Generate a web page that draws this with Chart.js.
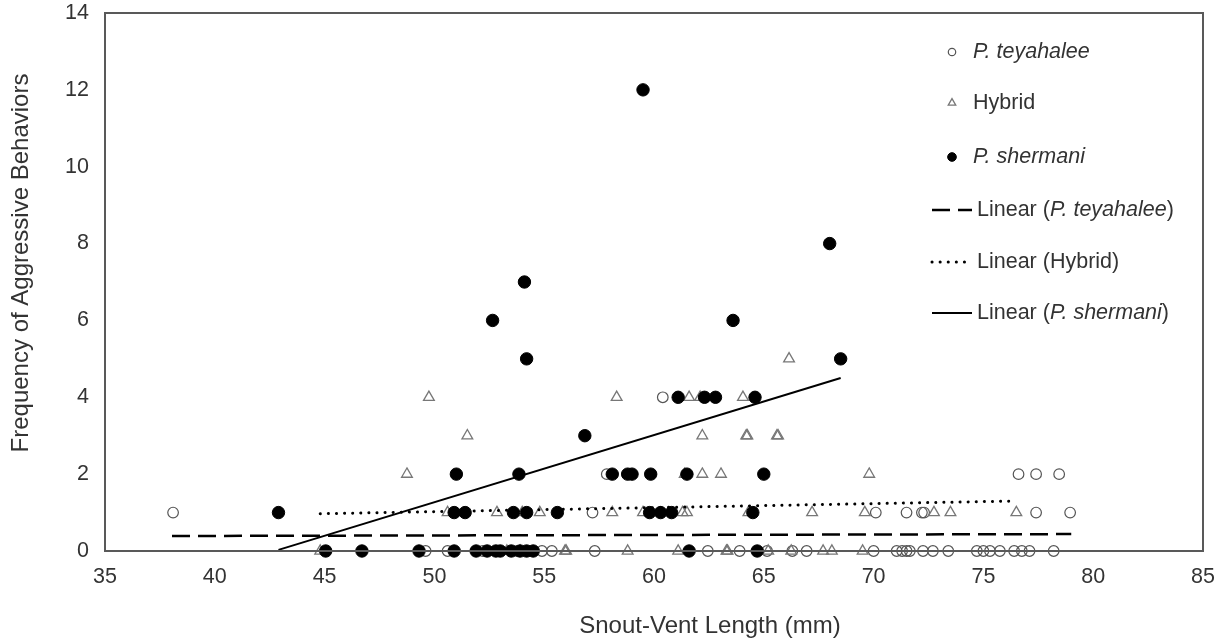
<!DOCTYPE html>
<html lang="en">
<head>
<meta charset="utf-8">
<script src="https://cdn.jsdelivr.net/npm/chart.js"></script>
<style>
  body { margin: 0; background: #fff; }
  #wrap { width: 1225px; height: 643px; }
</style>
</head>
<body>
<div id="wrap"><canvas id="myChart"></canvas></div>
<script>
// P. teyahalee (open circles)
const teyX = [49.6, 50.6, 52.2, 53.75, 54.9, 55.35, 57.3, 62.45, 63.9, 65.15, 66.3, 66.95, 70.0, 71.05, 71.3, 71.5, 71.65, 72.25, 72.7, 73.4, 74.7, 75.0, 75.3, 75.75, 76.4, 76.75, 77.1, 78.2,
              38.1, 57.2, 70.1, 71.5, 72.2, 72.3, 77.4, 78.95,
              57.85, 76.6, 77.4, 78.45,
              60.4];
const teyY = [0, 0, 0, 0, 0, 0, 0, 0, 0, 0, 0, 0, 0, 0, 0, 0, 0, 0, 0, 0, 0, 0, 0, 0, 0, 0, 0, 0,
              1, 1, 1, 1, 1, 1, 1, 1,
              2, 2, 2, 2,
              4];

// Hybrid (open triangles)
const hybX = [44.8, 53.3, 53.9, 55.95, 56.0, 58.8, 61.1, 63.3, 63.35, 65.2, 66.25, 67.7, 68.1, 69.5,
              50.6, 52.85, 54.0, 54.8, 58.1, 59.5, 61.3, 61.5, 64.3, 67.2, 69.6, 72.75, 73.5, 76.5,
              48.75, 61.4, 62.2, 63.05, 69.8,
              51.5, 62.2, 64.2, 64.25, 65.6, 65.65,
              49.75, 58.3, 61.6, 62.1, 64.05,
              66.15];
const hybY = [0, 0, 0, 0, 0, 0, 0, 0, 0, 0, 0, 0, 0, 0,
              1, 1, 1, 1, 1, 1, 1, 1, 1, 1, 1, 1, 1, 1,
              2, 2, 2, 2, 2,
              3, 3, 3, 3, 3, 3,
              4, 4, 4, 4, 4,
              5];

// P. shermani (filled circles)
const sheX = [45.05, 46.7, 49.3, 50.9, 51.9, 52.4, 52.8, 53.0, 53.5, 53.9, 54.2, 54.5, 61.6, 64.7,
              42.9, 50.9, 51.4, 53.6, 54.2, 55.6, 59.8, 60.3, 60.8, 64.5,
              51.0, 53.85, 58.1, 58.8, 59.0, 59.85, 61.5, 65.0,
              56.85,
              61.1, 62.3, 62.8, 64.6,
              54.2, 68.5,
              52.65, 63.6,
              54.1,
              68.0,
              59.5];
const sheY = [0, 0, 0, 0, 0, 0, 0, 0, 0, 0, 0, 0, 0, 0,
              1, 1, 1, 1, 1, 1, 1, 1, 1, 1,
              2, 2, 2, 2, 2, 2, 2, 2,
              3,
              4, 4, 4, 4,
              5, 5,
              6, 6,
              7,
              8,
              12];

// linear trendline end points
const teyFitX = [38.05, 79.0];
const teyFitY = [0.39, 0.44];
const hybFitX = [44.8, 76.4];
const hybFitY = [0.97, 1.30];
const sheFitX = [42.9, 68.5];
const sheFitY = [0.03, 4.5];

const xTicks = [35, 40, 45, 50, 55, 60, 65, 70, 75, 80, 85];
const yTicks = [0, 2, 4, 6, 8, 10, 12, 14];
const xTitle = 'Snout-Vent Length (mm)';
const yTitle = 'Frequency of Aggressive Behaviors';

function pts(xs, ys) {
    return xs.map((x, i) => ({x: x, y: ys[i]}));
}

const textColor = '#333333';
const fontFam = "'Liberation Sans', Arial, sans-serif";

// frame, axis titles and legend
const framePlugin = {
    id: 'frame',
    afterDraw(chart) {
        const ctx = chart.ctx;
        const a = chart.chartArea;
        ctx.save();
        ctx.strokeStyle = '#595959';
        ctx.lineWidth = 2;
        ctx.strokeRect(a.left, a.top, a.right - a.left, a.bottom - a.top);

        // axis titles (Excel places these a bit off the plot centre)
        ctx.fillStyle = textColor;
        ctx.font = '24px ' + fontFam;
        ctx.textAlign = 'center';
        ctx.textBaseline = 'middle';
        ctx.fillText(xTitle, 710, 626);
        ctx.translate(21, 263);
        ctx.rotate(-Math.PI / 2);
        ctx.fillText(yTitle, 0, 0);
        ctx.restore();

        // legend
        const ds = chart.data.datasets;
        const mx = a.right - 251;
        const lx0 = a.right - 271, lx1 = a.right - 231;
        const rows = [a.top + 39, a.top + 90, a.top + 144, a.top + 197, a.top + 249, a.top + 300];
        const entries = [
            {ds: 0, parts: [['P. teyahalee', true]]},
            {ds: 1, parts: [['Hybrid', false]]},
            {ds: 2, parts: [['P. shermani', true]]},
            {ds: 3, parts: [['Linear (', false], ['P. teyahalee', true], [')', false]]},
            {ds: 4, parts: [['Linear (Hybrid)', false]]},
            {ds: 5, parts: [['Linear (', false], ['P. shermani', true], [')', false]]}
        ];
        ctx.save();
        ctx.textBaseline = 'middle';
        entries.forEach((e, i) => {
            const d = ds[e.ds];
            const y = rows[i];
            let tx;
            if (d.type === 'line') {
                ctx.save();
                ctx.strokeStyle = d.borderColor;
                ctx.lineWidth = d.borderWidth;
                ctx.lineCap = d.borderCapStyle || 'butt';
                ctx.setLineDash(d.borderDash || []);
                ctx.beginPath();
                ctx.moveTo(lx0, y);
                ctx.lineTo(lx1, y);
                ctx.stroke();
                ctx.restore();
                tx = a.right - 226;
            } else {
                const r = d.pointRadius * 0.7;
                ctx.save();
                ctx.fillStyle = d.backgroundColor;
                ctx.strokeStyle = d.borderColor;
                ctx.lineWidth = d.borderWidth;
                ctx.beginPath();
                if (d.pointStyle === 'triangle') {
                    ctx.moveTo(mx, y - r);
                    ctx.lineTo(mx + r * 0.866, y + r * 0.5);
                    ctx.lineTo(mx - r * 0.866, y + r * 0.5);
                    ctx.closePath();
                } else {
                    ctx.arc(mx, y, r, 0, Math.PI * 2);
                }
                ctx.fill();
                ctx.stroke();
                ctx.restore();
                tx = a.right - 230;
            }
            ctx.fillStyle = textColor;
            e.parts.forEach(p => {
                ctx.font = (p[1] ? 'italic ' : '') + '21.5px ' + fontFam;
                ctx.fillText(p[0], tx, y);
                tx += ctx.measureText(p[0]).width;
            });
        });
        ctx.restore();
    }
};

const data = {
    datasets: [
        {
            label: 'P. teyahalee',
            data: pts(teyX, teyY),
            pointStyle: 'circle',
            pointRadius: 5.3,
            backgroundColor: 'rgba(255,255,255,0)',
            borderColor: '#555555',
            borderWidth: 1.2,
            clip: false,
            order: 4
        },
        {
            label: 'Hybrid',
            data: pts(hybX, hybY),
            pointStyle: 'triangle',
            pointRadius: 6.2,
            backgroundColor: 'rgba(255,255,255,0)',
            borderColor: '#777777',
            borderWidth: 1.3,
            clip: false,
            order: 3
        },
        {
            label: 'P. shermani',
            data: pts(sheX, sheY),
            pointStyle: 'circle',
            pointRadius: 6.2,
            backgroundColor: '#000000',
            borderColor: '#000000',
            borderWidth: 1,
            clip: false,
            order: 2
        },
        {
            type: 'line',
            label: 'Linear (P. teyahalee)',
            data: pts(teyFitX, teyFitY),
            borderColor: '#000000',
            borderWidth: 2.5,
            borderDash: [18, 8],
            pointRadius: 0,
            fill: false,
            order: 1
        },
        {
            type: 'line',
            label: 'Linear (Hybrid)',
            data: pts(hybFitX, hybFitY),
            borderColor: '#000000',
            borderWidth: 3,
            borderDash: [0.1, 8],
            borderCapStyle: 'round',
            pointRadius: 0,
            fill: false,
            order: 1
        },
        {
            type: 'line',
            label: 'Linear (P. shermani)',
            data: pts(sheFitX, sheFitY),
            borderColor: '#000000',
            borderWidth: 2,
            pointRadius: 0,
            fill: false,
            order: 1
        }
    ]
};

const config = {
    type: 'scatter',
    data: data,
    options: {
        responsive: true,
        maintainAspectRatio: false,
        animation: false,
        layout: { padding: { left: 0, top: 13, right: 22, bottom: 0 } },
        plugins: {
            legend: { display: false },
            tooltip: { enabled: false }
        },
        scales: {
            x: {
                type: 'linear',
                min: 35,
                max: 85,
                afterBuildTicks: s => { s.ticks = xTicks.map(v => ({value: v})); },
                afterFit: s => { s.height = 92; s.paddingLeft = 0; s.paddingRight = 0; },
                grid: { display: false, drawTicks: false },
                border: { display: false },
                ticks: {
                    padding: 13,
                    color: textColor,
                    font: { family: fontFam, size: 21.5 }
                },
                title: { display: false }
            },
            y: {
                type: 'linear',
                min: 0,
                max: 14,
                afterBuildTicks: s => { s.ticks = yTicks.map(v => ({value: v})); },
                afterFit: s => { s.width = 105; s.paddingTop = 0; s.paddingBottom = 0; },
                grid: { display: false, drawTicks: false },
                border: { display: false },
                ticks: {
                    padding: 16,
                    color: textColor,
                    font: { family: fontFam, size: 21.5 }
                },
                title: { display: false }
            }
        }
    },
    plugins: [framePlugin]
};

const myChart = new Chart(document.getElementById('myChart'), config);
</script>
</body>
</html>
